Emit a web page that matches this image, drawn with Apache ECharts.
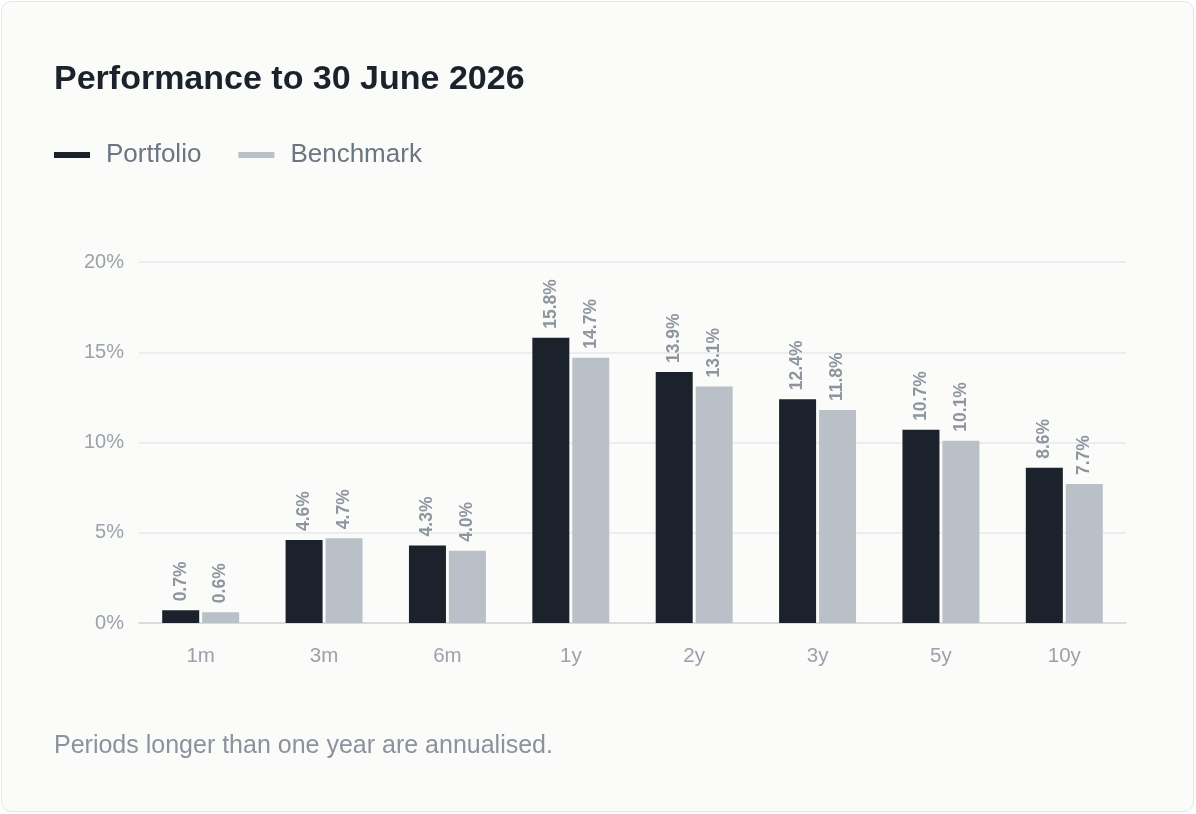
<!DOCTYPE html>
<html>
<head>
<meta charset="utf-8">
<script src="https://cdn.jsdelivr.net/npm/echarts@6/dist/echarts.min.js"></script>
<style>
  html, body { margin: 0; padding: 0; background: #ffffff; width: 1196px; height: 814px; overflow: hidden; }
  #card { position: absolute; left: 1px; top: 1px; width: 1191px; height: 809px; border: 1px solid #e3e7ea; border-radius: 10px; background: #fbfbf9; }
  #chart { position: absolute; left: 0; top: 0; width: 1196px; height: 814px; }
</style>
</head>
<body>
<div id="card"></div>
<div id="chart"></div>
<script>
const categories = ['1m', '3m', '6m', '1y', '2y', '3y', '5y', '10y'];
const portfolio = [0.7, 4.6, 4.3, 15.8, 13.9, 12.4, 10.7, 8.6];
const benchmark = [0.6, 4.7, 4.0, 14.7, 13.1, 11.8, 10.1, 7.7];
const seriesNames = ['Portfolio', 'Benchmark'];
const titleText = 'Performance to 30 June 2026';
const footnote = 'Periods longer than one year are annualised.';

const font = '"Liberation Sans", Arial, Helvetica, sans-serif';
const chart = echarts.init(document.getElementById('chart'), null, { renderer: 'canvas' });

const labelCfg = {
  show: true,
  position: 'top',
  rotate: 90,
  align: 'left',
  verticalAlign: 'middle',
  distance: 9,
  color: '#8d959f',
  fontSize: 17.5,
  fontWeight: 'bold',
  fontFamily: font,
  formatter: p => p.value.toFixed(1) + '%'
};

chart.setOption({
  backgroundColor: 'transparent',
  animation: false,
  title: [
    { text: titleText, left: 54, top: 63, padding: 0,
      textStyle: { fontSize: 34, fontWeight: 'bold', color: '#1b222b', fontFamily: font } },
    { text: footnote, left: 54, top: 734, padding: 0,
      textStyle: { fontSize: 25, fontWeight: 'normal', color: '#8a939d', fontFamily: font } }
  ],
  legend: {
    left: 54, top: 142, padding: 0,
    icon: 'rect',
    itemWidth: 36, itemHeight: 6,
    itemGap: 37,
    textStyle: { fontSize: 26, color: '#6b7683', fontFamily: font, padding: [0, 0, 0, 11] },
    data: seriesNames
  },
  grid: { left: 139, right: 70, top: 262, bottom: 191, containLabel: false },
  xAxis: {
    type: 'category',
    data: categories,
    axisTick: { show: false },
    axisLine: { lineStyle: { color: '#d2d6da', width: 1.5 } },
    axisLabel: { color: '#9aa2ab', fontSize: 20.5, fontFamily: font, margin: 23 }
  },
  yAxis: {
    type: 'value',
    min: 0, max: 20, interval: 5,
    axisLine: { show: false },
    axisTick: { show: false },
    splitLine: { lineStyle: { color: '#e6e8ea', width: 1.5 } },
    axisLabel: { color: '#9aa2ab', fontSize: 20, fontFamily: font, margin: 15, formatter: v => v + '%' }
  },
  series: [
    { name: seriesNames[0], type: 'bar', data: portfolio, barWidth: 37, barGap: '8%',
      itemStyle: { color: '#1b222b' }, label: labelCfg },
    { name: seriesNames[1], type: 'bar', data: benchmark, barWidth: 37,
      itemStyle: { color: '#b9c0c8' }, label: labelCfg }
  ]
});
</script>
</body>
</html>
